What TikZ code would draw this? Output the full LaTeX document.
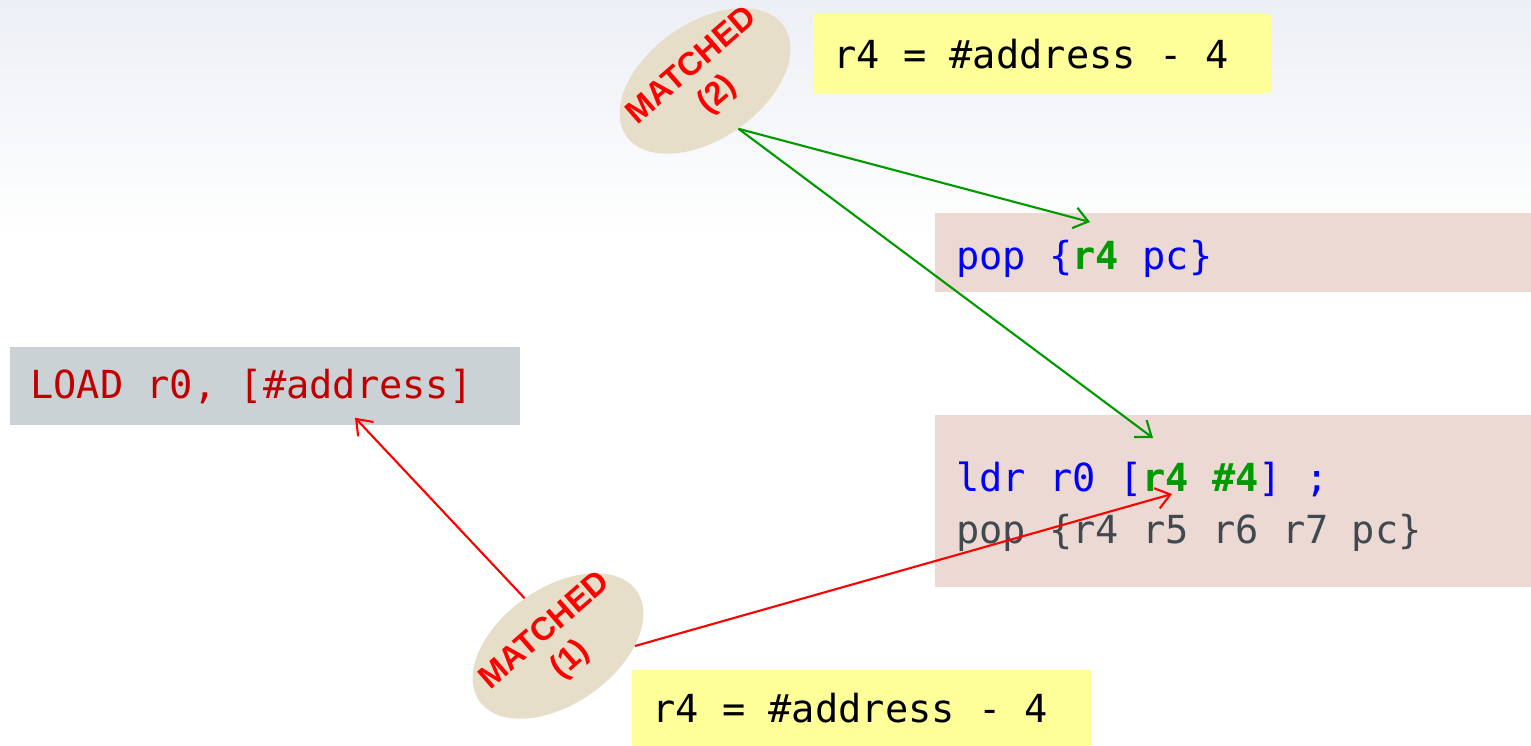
\documentclass[tikz,border=0pt]{standalone}
\usepackage{fontspec}
\usepackage{graphicx}
\setmonofont{DejaVu Sans Mono}
\newfontfamily\tagfont{Liberation Sans}
\usetikzlibrary{shapes.geometric,arrows.meta,calc}

\definecolor{hintyellow}{HTML}{FFFF99}
\definecolor{gadgetpink}{HTML}{ECD9D3}
\definecolor{insngrey}{HTML}{CBD2D6}
\definecolor{tagtan}{HTML}{E6DEC8}
\definecolor{codeblue}{HTML}{0000FF}
\definecolor{codegreen}{HTML}{009900}
\definecolor{codegrey}{HTML}{404850}
\definecolor{loadred}{HTML}{C00000}
\definecolor{bgtop}{HTML}{ECEFF5}

% monospaced cells, spaces included
\DeclareRobustCommand\fixsp{\fontdimen2\font=0.602em\fontdimen3\font=0pt\fontdimen4\font=0pt\relax}
\DeclareRobustCommand\codefont{\ttfamily\fontsize{22}{29.5}\selectfont\fixsp}
\newcommand\hlreg[1]{{\bfseries\color{codegreen}\fixsp#1}}
\newcommand\tagtext[2]{\makebox[0pt]{\raisebox{-0.25em}[0pt][0pt]{\rotatebox[origin=c]{6}{\begin{tabular}{@{}c@{}}#1\\#2\end{tabular}}}}}

\begin{document}
\begin{tikzpicture}[x=0.02cm,y=-0.02cm]
    \tikzset{
      code/.style={rectangle, anchor=north west, inner xsep=0.4cm, inner ysep=0pt, align=left, font=\codefont, execute at begin node={\spaceskip=0pt\xspaceskip=0pt\relax}},
      hint/.style={code, fill=hintyellow, minimum height=1.58cm, text width=8.37cm},
      gadget/.style={code, fill=gadgetpink, inner xsep=0.42cm, text width=11.08cm, execute at begin node={\spaceskip=0pt\xspaceskip=0pt\relax\rule{0pt}{23pt}}},
      insn/.style={code, fill=insngrey, minimum height=1.56cm, text width=9.4cm, text=loadred},
      match/.style={ellipse, fill=tagtan, rotate=35, minimum width=3.84cm, minimum height=2.32cm, inner sep=0pt, text=red, font=\tagfont\bfseries\fontsize{18.5}{22}\selectfont},
      good/.style={draw=codegreen, line width=1.2pt, -{Straight Barb[length=0.28cm,width=0.42cm]}},
      bad/.style={good, draw=red}
    }
    \useasboundingbox (0,0) rectangle (1531,746);
    \fill[white] (0,0) rectangle (1531,746);
    \shade[top color=bgtop, bottom color=white] (0,0) rectangle (1531,240);

    \node [hint] (hint2) at (813,14) {r4 = \#address - 4};
    \node [gadget, minimum height=1.58cm] (pop) at (935,213) {\color{codeblue}pop \{\hlreg{r4} pc\}};
    \node [gadget, minimum height=3.44cm] (ldr) at (935,415) {{\color{codeblue}ldr r0 [}\hlreg{r4 \#4}{\color{codeblue}] ;}\\{\color{codegrey}pop \{r4 r5 r6 r7 pc\}}};
    \node [insn] (load) at (10,347) {LOAD r0, [\#address]};
    \node [hint, minimum height=1.52cm] (hint1) at (632,670) {r4 = \#address - 4};

    \node [match] (m2) at (705,81) {\tagtext{MATCHED}{(2)}};
    \node [match] (m1) at (558,646) {\tagtext{MATCHED}{(1)}};

    \coordinate (popTip) at ($(pop.north west)+(155,9)$);
    \coordinate (ldrTip) at ($(ldr.north west)+(218,23)$);
    \coordinate (ldrHit) at ($(ldr.north west)+(237,79)$);
    \coordinate (loadTip) at ($(load.south west)+(345,-8)$);

    \draw [good] (m2.south) -- (popTip);
    \draw [good] (m2.south) -- (ldrTip);
    \draw [bad] (m1.north) -- (loadTip);
    \draw [bad] (m1.-35) -- (ldrHit);
\end{tikzpicture}
\end{document}
